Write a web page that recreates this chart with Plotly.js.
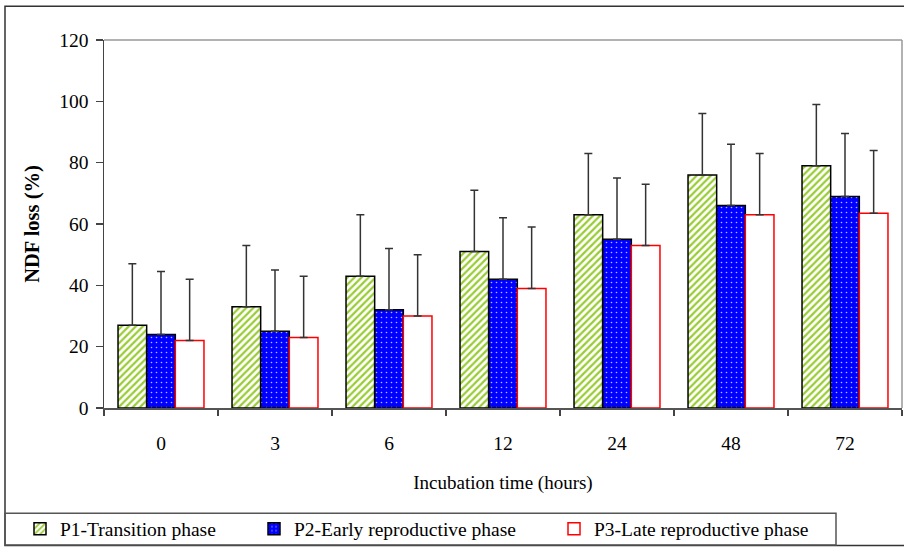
<!DOCTYPE html>
<html>
<head>
<meta charset="utf-8">
<script src="https://cdn.plot.ly/plotly-3.0.1.min.js"></script>
<style>html,body{margin:0;padding:0;background:#fff;}#chart{width:904px;height:551px;}</style>
</head>
<body>
<div id="chart"></div>
<script>
// ---- data ----
const categories = ["0", "3", "6", "12", "24", "48", "72"];
const seriesNames = ["P1-Transition phase", "P2-Early reproductive phase", "P3-Late reproductive phase"];
const p1Values = [27, 33, 43, 51, 63, 76, 79];
const p2Values = [24, 25, 32, 42, 55, 66, 69];
const p3Values = [22, 23, 30, 39, 53, 63, 63.5];
const p1Errors = [20, 20, 20, 20, 20, 20, 20];
const p2Errors = [20.5, 20, 20, 20, 20, 20, 20.5];
const p3Errors = [20, 20, 20, 20, 20, 20, 20.5];
const yTitle = "NDF loss (%)";
const xTitle = "Incubation time (hours)";

const FONT = "'Liberation Serif', 'Times New Roman', Times, serif";
const zeros = categories.map(() => 0);

function errBar(arr) {
  return {type: "data", symmetric: false, array: arr, arrayminus: zeros,
          color: "#333", thickness: 1.5, width: 4, visible: true};
}

const traces = [
  {type: "bar", name: seriesNames[0], x: categories, y: p1Values, legend: "legend",
   error_y: errBar(p1Errors),
   marker: {color: "#ffffff", line: {color: "#000000", width: 1.5},
            pattern: {shape: "/", fgcolor: "#99cc33", bgcolor: "#ffffff", size: 5, solidity: 0.45}}},
  {type: "bar", name: seriesNames[1], x: categories, y: p2Values, legend: "legend2",
   error_y: errBar(p2Errors),
   marker: {color: "#0000ff", line: {color: "#000000", width: 1.5},
            pattern: {shape: ".", fgcolor: "#b8b8ff", bgcolor: "#0000ff", size: 5, solidity: 0.08}}},
  {type: "bar", name: seriesNames[2], x: categories, y: p3Values, legend: "legend3",
   error_y: errBar(p3Errors),
   marker: {color: "#ffffff", line: {color: "#ff0000", width: 1.5}}}
];

// pixel->paper helpers (plot area 104..902 x 40..411)
const px = v => (v - 104) / 798;
const py = v => (411 - v) / 371;

function legendAt(xpix) {
  return {x: px(xpix), y: py(533), xanchor: "left", yanchor: "middle",
          orientation: "h", bgcolor: "rgba(0,0,0,0)", borderwidth: 0,
          font: {family: FONT, size: 19.5, color: "#000"}};
}

const layout = {
  width: 904, height: 551,
  margin: {l: 104, r: 2, t: 40, b: 140},
  paper_bgcolor: "#ffffff", plot_bgcolor: "#ffffff",
  font: {family: FONT, size: 19.5, color: "#000"},
  barmode: "group", bargap: 0.246, bargroupgap: 0,
  showlegend: true,
  hovermode: false,
  xaxis: {
    type: "category", tickson: "boundaries", ticks: "outside", ticklen: 6, tickwidth: 1.5,
    tickcolor: "#444", showline: true, linecolor: "#555", linewidth: 2, showgrid: false,
    zeroline: false, ticklabelstandoff: 17,
    tickfont: {family: FONT, size: 19.5, color: "#000"},
    title: {text: xTitle, standoff: 22, font: {family: FONT, size: 19, color: "#000"}}
  },
  yaxis: {
    range: [0, 120], dtick: 20, ticks: "outside", ticklen: 7, tickwidth: 1.5, tickcolor: "#444",
    showline: true, linecolor: "#444", linewidth: 1.5, showgrid: false, zeroline: false,
    ticklabelstandoff: 3,
    tickfont: {family: FONT, size: 19.5, color: "#000"},
    title: {text: "<b>" + yTitle + "</b>", standoff: 14, font: {family: FONT, size: 20.5, color: "#000"}}
  },
  legend: legendAt(20),
  legend2: legendAt(254),
  legend3: legendAt(554),
  shapes: [
    // outer frame
    {type: "rect", xref: "paper", yref: "paper", x0: px(5), x1: px(906), y0: py(549.5), y1: py(6),
     line: {color: "#333", width: 1.5}, fillcolor: "rgba(0,0,0,0)", layer: "below"},
    // legend box
    {type: "rect", xref: "paper", yref: "paper", x0: px(5), x1: px(836), y0: py(549), y1: py(517),
     line: {color: "#555", width: 1.5}, fillcolor: "rgba(0,0,0,0)", layer: "below"},
    // plot area top and right border (grey)
    {type: "line", xref: "paper", yref: "paper", x0: 0, x1: 1, y0: 1, y1: 1, line: {color: "#999", width: 1.5}},
    {type: "line", xref: "paper", yref: "paper", x0: 1, x1: 1, y0: 0, y1: 1, line: {color: "#999", width: 1.5}}
  ]
};

Plotly.newPlot("chart", traces, layout, {staticPlot: true, displayModeBar: false});
</script>
</body>
</html>
